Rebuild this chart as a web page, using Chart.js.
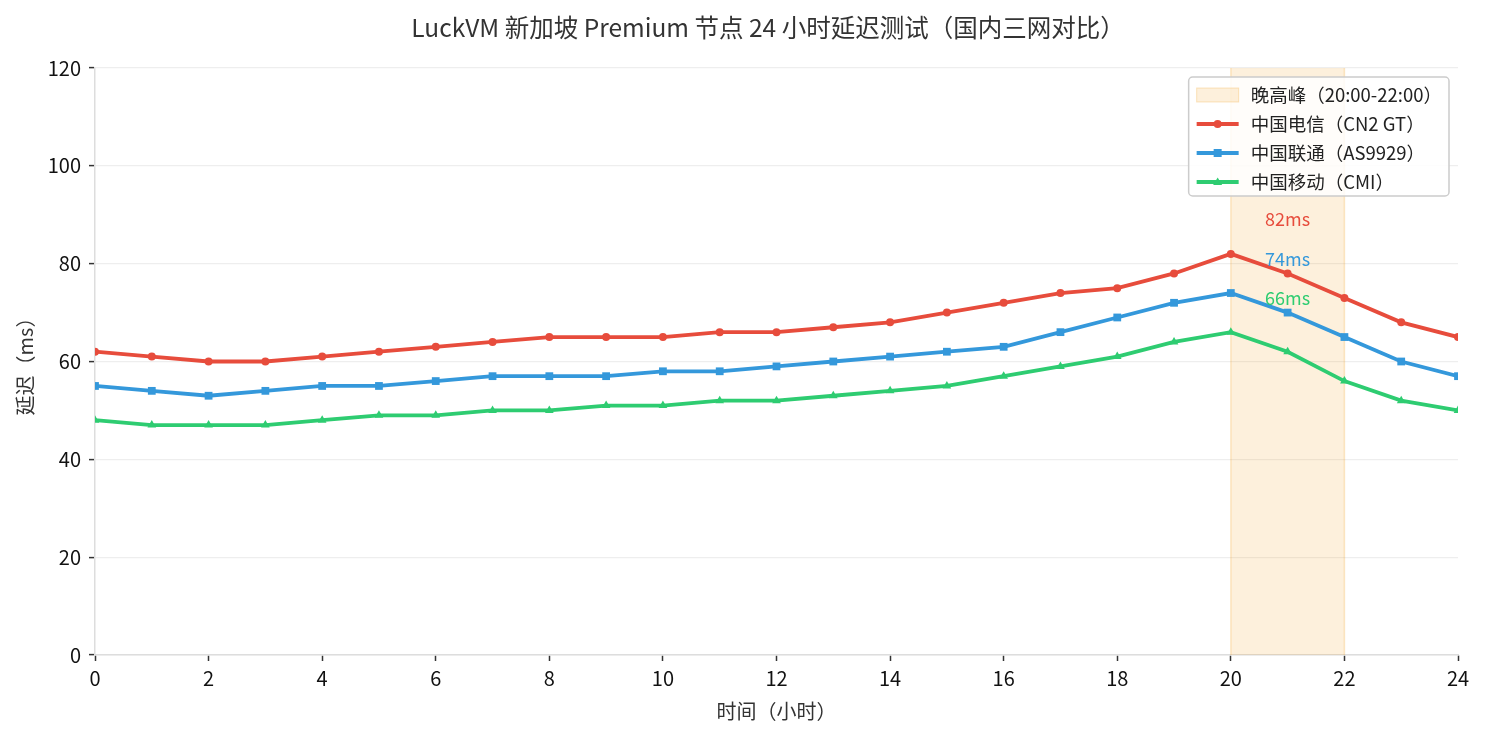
<!DOCTYPE html>
<html>
<head>
<meta charset="utf-8">
<script src="https://cdn.jsdelivr.net/npm/chart.js@4/dist/chart.umd.min.js"></script>
<style>
html,body{margin:0;padding:0;background:#fff;}
#wrap{width:1485px;height:735px;position:relative;}
</style>
</head>
<body>
<div id="wrap"><canvas id="c" width="1485" height="735"></canvas></div>
<script>
const hours = [0,1,2,3,4,5,6,7,8,9,10,11,12,13,14,15,16,17,18,19,20,21,22,23,24];
const telecom = [62,61,60,60,61,62,63,64,65,65,65,66,66,67,68,70,72,74,75,78,82,78,73,68,65];
const unicom  = [55,54,53,54,55,55,56,57,57,57,58,58,59,60,61,62,63,66,69,72,74,70,65,60,57];
const mobile  = [48,47,47,47,48,49,49,50,50,51,51,52,52,53,54,55,57,59,61,64,66,62,56,52,50];
const seriesNames = ['中国电信（CN2 GT）','中国联通（AS9929）','中国移动（CMI）'];
const peakLabel = '晚高峰（20:00-22:00）';
const peakRange = [20,22];
const peakValues = [82,74,66];
const peakLabels = ['82ms','74ms','66ms'];
const xTicks = [0,2,4,6,8,10,12,14,16,18,20,22,24];
const yTicks = [0,20,40,60,80,100,120];
const titleText = 'LuckVM 新加坡 Premium 节点 24 小时延迟测试（国内三网对比）';
const xTitle = '时间（小时）';
const yTitle = '延迟（ms）';

const colors = ['#e74c3c','#3498db','#2ecc71'];
const shapes = ['circle','rect','triangle'];
const FONT = "'Noto Sans CJK SC','Noto Sans',sans-serif";

const toXY = arr => arr.map((v,i)=>({x:hours[i], y:v}));
const datasets = [telecom, unicom, mobile].map((arr,i)=>({
  label: seriesNames[i],
  data: toXY(arr),
  borderColor: colors[i],
  backgroundColor: colors[i],
  borderWidth: 3.8,
  pointStyle: shapes[i],
  pointRadius: [4, 5.5, 5][i],
  pointBorderWidth: 0,
  pointHoverRadius: 4,
  tension: 0,
  clip: 0
}));

const bgPlugin = {
  id: 'peak',
  beforeDatasetsDraw(chart){
    const {ctx, chartArea:a, scales:{x}} = chart;
    const x0 = x.getPixelForValue(peakRange[0]), x1 = x.getPixelForValue(peakRange[1]);
    ctx.save();
    ctx.fillStyle = 'rgba(243,156,18,0.15)';
    ctx.fillRect(x0, a.top, x1-x0, a.bottom-a.top);
    ctx.strokeStyle = 'rgba(243,156,18,0.22)';
    ctx.lineWidth = 1.5;
    ctx.beginPath();
    ctx.moveTo(x0, a.top); ctx.lineTo(x0, a.bottom);
    ctx.moveTo(x1, a.top); ctx.lineTo(x1, a.bottom);
    ctx.stroke();
    ctx.restore();
  },
  afterDraw(chart){
    const {ctx, chartArea:a} = chart;
    ctx.save();
    ctx.font = "24.5px " + FONT;
    ctx.fillStyle = '#333333';
    ctx.textAlign = 'center';
    ctx.textBaseline = 'middle';
    ctx.fillText(titleText, 768 - 776.5 + (a.left + a.right)/2, 28);
    ctx.restore();
  },
  afterDatasetsDraw(chart){
    const {ctx, chartArea:a, scales:{x,y}} = chart;
    ctx.save();
    ctx.font = "18px " + FONT;
    ctx.textAlign = 'center';
    ctx.textBaseline = 'middle';
    peakValues.forEach((v,i)=>{
      ctx.fillStyle = colors[i];
      ctx.fillText(peakLabels[i], x.getPixelForValue(21), y.getPixelForValue(v+7));
    });
    // legend
    ctx.font = "18.5px " + FONT;
    const items = [peakLabel].concat(seriesNames);
    const tw = Math.max(...items.map(t=>ctx.measureText(t).width));
    const rowH = 29;
    const padX = 8, sampleW = 42, gap = 12;
    const w = padX + sampleW + gap + tw + 7;
    const h = rowH*items.length + 3;
    const right = a.right - 9, top = a.top + 9;
    const left = right - w;
    ctx.fillStyle = 'rgba(255,255,255,0.85)';
    ctx.strokeStyle = '#cccccc';
    ctx.lineWidth = 1.5;
    ctx.beginPath();
    ctx.roundRect(left, top, w, h, 4);
    ctx.fill(); ctx.stroke();
    ctx.textAlign = 'left';
    items.forEach((t,i)=>{
      const cy = top + 18 + i*rowH;
      const sx = left + padX;
      if(i===0){
        ctx.fillStyle = 'rgba(243,156,18,0.15)';
        ctx.fillRect(sx, cy-7, sampleW, 14);
        ctx.strokeStyle = 'rgba(243,156,18,0.25)';
        ctx.lineWidth = 1;
        ctx.strokeRect(sx, cy-7, sampleW, 14);
      } else {
        const c = colors[i-1];
        ctx.strokeStyle = c; ctx.lineWidth = 3.8;
        ctx.beginPath(); ctx.moveTo(sx, cy); ctx.lineTo(sx+sampleW, cy); ctx.stroke();
        ctx.fillStyle = c;
        const mx = sx + sampleW/2;
        ctx.beginPath();
        if(i===1){ ctx.arc(mx, cy, 4, 0, Math.PI*2); }
        else if(i===2){ ctx.rect(mx-4, cy-4, 8, 8); }
        else { ctx.moveTo(mx, cy-4.5); ctx.lineTo(mx+4.5, cy+3); ctx.lineTo(mx-4.5, cy+3); ctx.closePath(); }
        ctx.fill();
      }
      ctx.fillStyle = '#222';
      ctx.fillText(t, sx + sampleW + gap, cy);
    });
    ctx.restore();
  }
};

new Chart(document.getElementById('c'), {
  type: 'line',
  data: { datasets },
  plugins: [bgPlugin],
  options: {
    responsive: false,
    animation: false,
    events: [],
    layout: { padding: { left: 0, right: 27, top: 68, bottom: 0 } },
    plugins: {
      legend: { display: false },
      tooltip: { enabled: false },
      title: { display: false }
    },
    scales: {
      x: {
        type: 'linear', min: 0, max: 24,
        afterBuildTicks(s){ s.ticks = xTicks.map(v=>({value:v})); },
        afterFit(s){ s.height = 80; },
        ticks: { color: '#111', font: { family: FONT, size: 20 }, padding: 5, maxRotation: 0, autoSkip: false },
        grid: { drawOnChartArea: false, drawTicks: true, tickLength: 6, tickColor: '#333', tickWidth: 1.5 },
        border: { color: '#dddddd', width: 1.5 },
        title: { display: true, text: xTitle, color: '#333', font: { family: FONT, size: 20 }, padding: { top: 2, bottom: 12 } }
      },
      y: {
        min: 0, max: 120,
        afterBuildTicks(s){ s.ticks = yTicks.map(v=>({value:v})); },
        afterFit(s){ s.width = 95; },
        ticks: { color: '#111', font: { family: FONT, size: 20 }, padding: 8 },
        grid: { color: '#eeeeee', lineWidth: 1.2, drawTicks: true, tickLength: 6, tickColor: '#333', tickWidth: 1.5 },
        border: { color: '#dddddd', width: 1.5 },
        title: { display: true, text: yTitle, color: '#333', font: { family: FONT, size: 20 }, padding: { top: 13, bottom: 13 } }
      }
    }
  }
});
</script>
</body>
</html>
